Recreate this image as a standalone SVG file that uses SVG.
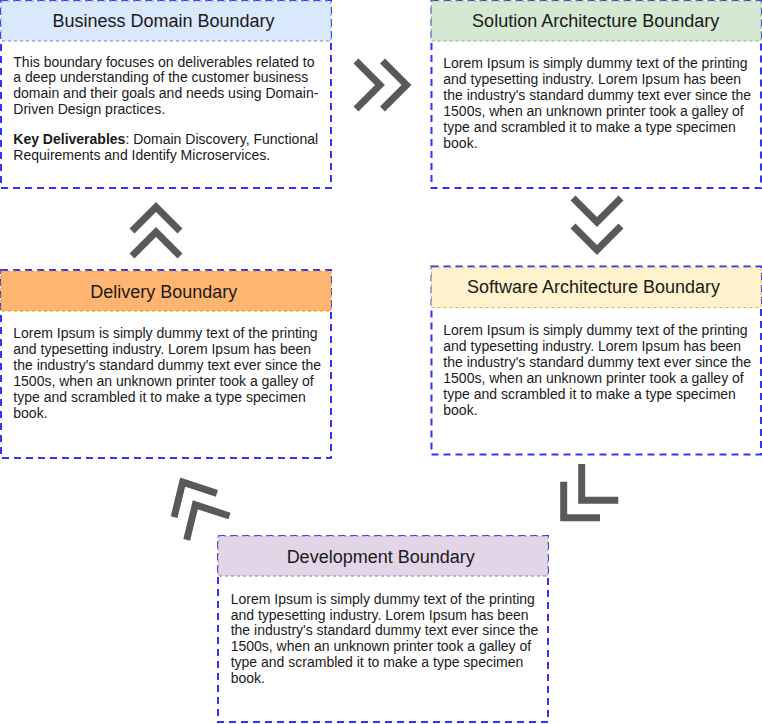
<svg xmlns="http://www.w3.org/2000/svg" width="762" height="724" viewBox="0 0 762 724">
<style>
.box{fill:#ffffff;stroke:#3333ff;stroke-width:2;stroke-dasharray:7 5;}
.hd{stroke-width:1;stroke-dasharray:3 3;}
.title{font-family:"Liberation Sans",Arial,sans-serif;font-size:18px;fill:#1a1a1a;text-anchor:middle;}
.body{font-family:"Liberation Sans",Arial,sans-serif;font-size:14px;fill:#1a1a1a;}
.chev{fill:none;stroke:#595959;stroke-width:7;stroke-linejoin:miter;stroke-linecap:butt;}
</style>
<rect width="762" height="724" fill="#ffffff"/>
<g id="business-domain">
<rect class="box" x="1" y="1" width="330" height="187"/>
<rect class="hd" x="1" y="1" width="330" height="40" fill="#dae8fc" stroke="#6c8ebf"/>
<text class="title" x="163.5" y="27">Business Domain Boundary</text>
<text class="body" x="13.3">
<tspan x="13.3" y="66.5">This boundary focuses on deliverables related to</tspan>
<tspan x="13.3" y="82.4">a deep understanding of the customer business</tspan>
<tspan x="13.3" y="98.3">domain and their goals and needs using Domain-</tspan>
<tspan x="13.3" y="114.2">Driven Design practices.</tspan>
<tspan x="13.3" y="144.3"><tspan font-weight="bold">Key Deliverables</tspan>: Domain Discovery, Functional</tspan>
<tspan x="13.3" y="160.2">Requirements and Identify Microservices.</tspan>
</text>
</g>
<g id="solution-architecture">
<rect class="box" x="431.5" y="1" width="329.5" height="187"/>
<rect class="hd" x="431.5" y="1" width="329.5" height="40" fill="#d5e8d4" stroke="#82b366"/>
<text class="title" x="595.7" y="27">Solution Architecture Boundary</text>
<text class="body">
<tspan x="443.3" y="68.3">Lorem Ipsum is simply dummy text of the printing</tspan>
<tspan x="443.3" y="84.3">and typesetting industry. Lorem Ipsum has been</tspan>
<tspan x="443.3" y="100.3">the industry's standard dummy text ever since the</tspan>
<tspan x="443.3" y="116.3">1500s, when an unknown printer took a galley of</tspan>
<tspan x="443.3" y="132.3">type and scrambled it to make a type specimen</tspan>
<tspan x="443.3" y="148.3">book.</tspan>
</text>
</g>
<g id="software-architecture">
<rect class="box" x="431.5" y="266.5" width="329.5" height="188"/>
<rect class="hd" x="431.5" y="267.5" width="329.5" height="40" fill="#fff2cc" stroke="#d6b656"/>
<text class="title" x="593.5" y="293.2">Software Architecture Boundary</text>
<text class="body">
<tspan x="443.3" y="335">Lorem Ipsum is simply dummy text of the printing</tspan>
<tspan x="443.3" y="350.9">and typesetting industry. Lorem Ipsum has been</tspan>
<tspan x="443.3" y="366.8">the industry's standard dummy text ever since the</tspan>
<tspan x="443.3" y="382.7">1500s, when an unknown printer took a galley of</tspan>
<tspan x="443.3" y="398.6">type and scrambled it to make a type specimen</tspan>
<tspan x="443.3" y="414.5">book.</tspan>
</text>
</g>
<g id="delivery">
<rect class="box" x="1" y="270" width="330" height="188"/>
<rect class="hd" x="1" y="271" width="330" height="40" fill="#ffb570" stroke="#d79b00"/>
<text class="title" x="163.7" y="297.5">Delivery Boundary</text>
<text class="body">
<tspan x="13.3" y="337.7">Lorem Ipsum is simply dummy text of the printing</tspan>
<tspan x="13.3" y="353.7">and typesetting industry. Lorem Ipsum has been</tspan>
<tspan x="13.3" y="369.7">the industry's standard dummy text ever since the</tspan>
<tspan x="13.3" y="385.7">1500s, when an unknown printer took a galley of</tspan>
<tspan x="13.3" y="401.7">type and scrambled it to make a type specimen</tspan>
<tspan x="13.3" y="417.7">book.</tspan>
</text>
</g>
<g id="development">
<rect class="box" x="218" y="536" width="330" height="186"/>
<rect class="hd" x="218" y="536" width="330" height="40" fill="#e1d5e7" stroke="#9673a6"/>
<text class="title" x="380.7" y="562.5">Development Boundary</text>
<text class="body">
<tspan x="230.7" y="603.8">Lorem Ipsum is simply dummy text of the printing</tspan>
<tspan x="230.7" y="619.6">and typesetting industry. Lorem Ipsum has been</tspan>
<tspan x="230.7" y="635.4">the industry's standard dummy text ever since the</tspan>
<tspan x="230.7" y="651.2">1500s, when an unknown printer took a galley of</tspan>
<tspan x="230.7" y="667">type and scrambled it to make a type specimen</tspan>
<tspan x="230.7" y="682.8">book.</tspan>
</text>
</g>
<g id="connectors">
<polyline class="chev" points="356,61 380,85 356,109"/>
<polyline class="chev" points="382.5,61 406.5,85 382.5,109"/>
<polyline class="chev" points="573,198 597,222 621,198"/>
<polyline class="chev" points="573,226 597,250 621,226"/>
<polyline class="chev" points="581.7,464 581.7,500.3 618.3,500.3"/>
<polyline class="chev" points="563.7,481.7 563.7,517.8 600,517.8"/>
<polyline class="chev" points="216.9,493.3 182.7,482.1 174.1,517.1"/>
<polyline class="chev" points="229.5,516 195.3,504.8 186.7,539.8"/>
<polyline class="chev" points="132,256 156,232 180,256"/>
<polyline class="chev" points="132,231 156,207 180,231"/>
</g>
</svg>
